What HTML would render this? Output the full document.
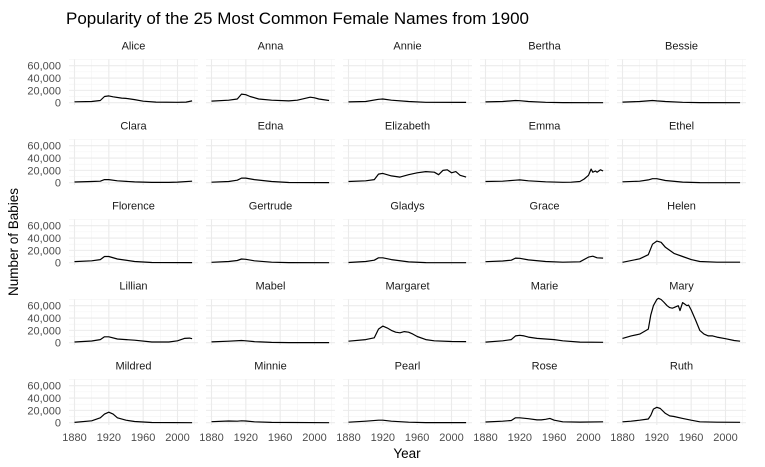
<!DOCTYPE html>
<html><head><meta charset="utf-8"><style>
html,body{margin:0;padding:0;background:#fff;}
svg{display:block;font-family:"Liberation Sans",sans-serif;}
</style></head><body>
<svg id="s" width="765" height="467" viewBox="0 0 765 467" xmlns="http://www.w3.org/2000/svg">
<rect width="765" height="467" fill="#fff"/>
<text x="66" y="24" font-size="17" fill="#000">Popularity of the 25 Most Common Female Names from 1900</text>
<text x="407" y="458" font-size="13.5" text-anchor="middle" fill="#000">Year</text>
<text x="0" y="0" font-size="13.5" text-anchor="middle" fill="#000" transform="translate(18,242) rotate(-90)">Number of Babies</text>
<g id="g"></g>
</svg>
<script>
const D={
Alice:[[1880,1.4],[1900,2],[1910,3.5],[1915,10],[1920,11],[1925,9.5],[1935,7.5],[1940,7],[1950,5],[1960,2.5],[1975,1],[2000,0.7],[2010,1],[2017,3]],
Anna:[[1880,2.6],[1900,4],[1910,6],[1915,14],[1920,13],[1925,10],[1935,6],[1950,4],[1970,3],[1980,4],[1995,9],[2000,8],[2005,6],[2017,3.5]],
Annie:[[1880,1.3],[1900,2],[1915,5.5],[1920,6],[1930,4],[1950,2],[1970,0.7],[2017,0.5]],
Bertha:[[1880,1.3],[1900,2],[1915,3.5],[1920,3.3],[1930,2],[1950,0.7],[1970,0.1],[2017,0]],
Bessie:[[1880,1],[1900,2],[1915,3.5],[1920,3],[1930,2],[1950,0.7],[1970,0.1],[2017,0]],
Clara:[[1880,1.2],[1900,2],[1910,2.5],[1915,5],[1920,5],[1930,3],[1950,1.3],[1970,0.5],[1990,0.5],[2000,1],[2017,2.5]],
Edna:[[1880,0.8],[1900,2],[1910,4],[1915,7.5],[1920,7.5],[1930,5],[1950,2],[1970,0.4],[2017,0.1]],
Elizabeth:[[1880,2],[1900,3],[1910,5],[1915,14],[1920,15],[1930,11],[1940,9],[1950,13],[1960,16],[1970,18],[1980,17],[1985,13],[1990,20],[1995,21],[2000,16],[2005,18],[2010,12],[2017,9]],
Emma:[[1880,2],[1900,2.5],[1915,4],[1920,4.5],[1930,3],[1950,1.5],[1970,0.6],[1980,0.8],[1990,2],[1995,6],[2000,12],[2003,22],[2005,17],[2008,19],[2010,17],[2014,21],[2017,19]],
Ethel:[[1880,1.4],[1900,2.5],[1910,4.5],[1915,6.5],[1920,6.5],[1930,3.5],[1950,1],[1970,0.1],[2017,0]],
Florence:[[1880,1.8],[1900,3],[1910,5],[1915,10],[1920,10],[1930,6],[1950,2],[1970,0.3],[2017,0.2]],
Gertrude:[[1880,0.7],[1900,2],[1910,3.5],[1915,6],[1920,5.5],[1930,3],[1950,0.8],[1970,0.1],[2017,0]],
Gladys:[[1880,0.4],[1900,2],[1910,4],[1915,8],[1920,8],[1930,5],[1950,1.3],[1970,0.2],[2017,0]],
Grace:[[1880,1.6],[1900,2.8],[1910,4],[1915,7.5],[1920,7.2],[1930,4.5],[1950,2],[1970,0.8],[1990,1.5],[2000,9],[2005,10.5],[2010,8],[2017,7.5]],
Helen:[[1880,0.6],[1900,6.3],[1910,13],[1915,30],[1920,35],[1925,33],[1930,25],[1940,15],[1950,10],[1960,5],[1970,2],[1990,0.8],[2017,0.8]],
Lillian:[[1880,1.2],[1900,2.7],[1910,5],[1915,9.5],[1920,9.5],[1930,6],[1950,4],[1970,1.2],[1990,1.2],[2000,3],[2008,7],[2014,7.5],[2017,6.5]],
Mabel:[[1880,1.3],[1900,2.5],[1915,3.5],[1920,3],[1930,1.8],[1950,0.5],[1970,0.1],[2017,0.2]],
Margaret:[[1880,2.5],[1900,5],[1910,8],[1915,22],[1920,27],[1925,24],[1930,20],[1935,17],[1940,16],[1945,18],[1950,17],[1955,14],[1960,10],[1970,5],[1980,3],[2000,2],[2017,1.8]],
Marie:[[1880,1],[1900,3],[1910,5],[1915,11],[1920,12],[1925,11],[1930,9],[1940,7],[1950,6],[1960,5],[1970,3],[1990,1],[2017,0.6]],
Mary:[[1880,7],[1890,11],[1900,14],[1910,22],[1913,45],[1916,60],[1920,70],[1922,72],[1925,70],[1928,66],[1932,60],[1935,57],[1938,56],[1940,57],[1945,60],[1947,52],[1950,65],[1952,63],[1955,60],[1957,61],[1960,53],[1965,37],[1970,20],[1975,14],[1980,11],[1985,11],[1990,9],[2000,6.5],[2010,3.5],[2017,2.5]],
Mildred:[[1880,0.5],[1900,3],[1910,8],[1915,14],[1920,17],[1925,14],[1930,8],[1940,4],[1950,2],[1970,0.3],[2017,0]],
Minnie:[[1880,1.7],[1900,2.8],[1910,2.5],[1915,3],[1920,2.8],[1930,1.5],[1950,0.5],[2017,0]],
Pearl:[[1880,0.8],[1900,2.5],[1915,4],[1920,4],[1930,2.5],[1950,0.8],[1970,0.2],[2017,0.1]],
Rose:[[1880,1.2],[1900,2.5],[1910,3.5],[1915,8],[1920,8],[1930,6.5],[1940,4.5],[1945,4.5],[1950,5.5],[1955,7],[1960,4],[1970,1.5],[1990,1],[2017,1.5]],
Ruth:[[1880,1.5],[1890,2.5],[1900,4],[1910,6],[1913,12],[1916,22],[1920,25],[1924,23],[1930,15],[1935,11],[1940,10],[1950,7],[1960,4],[1970,1.5],[1990,0.8],[2017,0.7]]
};
const names=Object.keys(D);
let h='';
const PW=129,PL=69,PITCH=137,SX=103/120;
for(let i=0;i<25;i++){
 const c=i%5,r=Math.floor(i/5);
 const left=PL+c*PITCH, y0=102.7+r*80, top=y0-43.4, bot=y0+2.3;
 const X=yr=>left+5.5+(yr-1880)*SX, Y=v=>y0-v*37/60;
 // minor grid
 for(const v of [10,30,50,70]) h+=`<line x1="${left}" x2="${left+PW}" y1="${Y(v)}" y2="${Y(v)}" stroke="#f3f3f3" stroke-width="0.6"/>`;
 for(const yr of [1900,1940,1980,2020]) h+=`<line x1="${X(yr)}" x2="${X(yr)}" y1="${top}" y2="${bot}" stroke="#f3f3f3" stroke-width="0.6"/>`;
 for(const v of [0,20,40,60]) h+=`<line x1="${left}" x2="${left+PW}" y1="${Y(v)}" y2="${Y(v)}" stroke="#ebebeb" stroke-width="1.1"/>`;
 for(const yr of [1880,1920,1960,2000]) h+=`<line x1="${X(yr)}" x2="${X(yr)}" y1="${top}" y2="${bot}" stroke="#ebebeb" stroke-width="1.1"/>`;
 h+=`<text x="${left+PW/2}" y="${y0-53}" font-size="11" text-anchor="middle" fill="#1a1a1a">${names[i]}</text>`;
 if(c==0){
  const lab=['0','20,000','40,000','60,000'];
  [0,20,40,60].forEach((v,k)=>h+=`<text x="61" y="${Y(v)+4}" font-size="11" text-anchor="end" fill="#4d4d4d">${lab[k]}</text>`);
 }
 if(r==4){
  for(const yr of [1880,1920,1960,2000]) h+=`<text x="${X(yr)}" y="441" font-size="11" text-anchor="middle" fill="#4d4d4d">${yr}</text>`;
 }
 const pts=D[names[i]].map(p=>X(p[0]).toFixed(1)+','+Y(p[1]).toFixed(1)).join(' ');
 h+=`<polyline points="${pts}" fill="none" stroke="#000" stroke-width="1.2" stroke-linejoin="round"/>`;
}
document.getElementById('g').innerHTML=h;
</script>
</body></html>
